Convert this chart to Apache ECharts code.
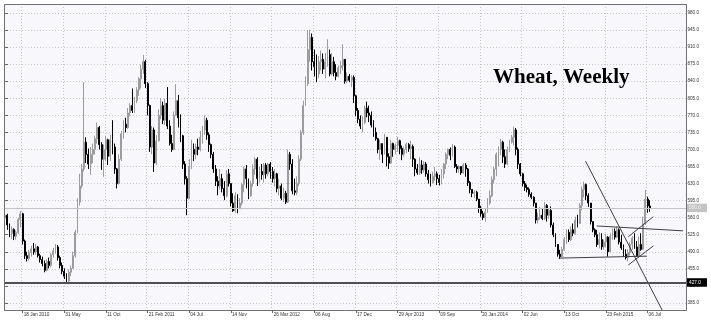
<!DOCTYPE html>
<html><head><meta charset="utf-8">
<script src="https://cdn.jsdelivr.net/npm/echarts@6/dist/echarts.min.js"></script>
<style>html,body{margin:0;padding:0;background:#fff}#c{width:711px;height:320px}</style>
</head><body><div id="c"></div>
<script>
// ---- data ----
const tickLabels = ['18 Jan 2010','31 May','11 Oct','21 Feb 2011','04 Jul','14 Nov','26 Mar 2012','06 Aug','17 Dec','29 Apr 2013','09 Sep','20 Jan 2014','02 Jun','13 Oct','23 Feb 2015','06 Jul'];
const firstLabelIndex = 8, labelStep = 19, emptySlots = 16;
const firstOpen = 560;
const closes = [
565,545,528,536,522,530,556,568,512,482,
476,488,496,490,500,482,474,466,452,470,
462,484,492,500,478,462,450,440,430,448,
456,482,530,592,625,660,715,690,670,690,
700,722,745,710,680,700,720,686,720,705,
660,630,680,732,752,745,775,790,780,800,
822,845,865,880,835,790,705,740,672,718,
770,790,760,795,748,712,700,770,800,765,
728,670,640,600,665,700,690,705,700,725,
740,760,730,710,690,660,635,625,640,620,
605,650,630,590,574,605,578,590,628,660,
640,605,630,660,680,640,655,648,668,650,
670,655,640,650,620,625,600,610,592,690,
670,615,612,630,680,735,790,835,905,930,
880,870,855,880,885,865,880,895,855,880,
858,850,868,872,885,840,850,842,848,810,
780,762,748,755,785,775,770,750,735,722,
700,712,690,725,685,672,712,700,708,718,
702,690,700,710,702,706,680,660,652,668,
658,670,650,638,632,645,650,640,632,650,
670,690,700,688,705,665,660,665,652,668,
660,632,618,610,612,598,580,568,560,572,
590,605,638,660,690,700,715,685,670,700,
715,725,740,700,670,650,630,622,618,608,
602,590,555,560,565,558,585,565,575,545,
525,505,485,480,495,515,530,515,535,528,
555,548,585,618,628,605,590,552,535,525,
505,515,500,510,520,490,522,532,520,535,
510,498,485,478,488,505,518,500,482,505,
495,548,598,584,580];
const highs = [
580,568,548,542,538,534,560,574,570,515,
490,494,502,508,506,502,486,480,472,474,
478,488,498,506,504,482,468,456,446,454,
462,490,535,600,650,670,838,725,702,705,
712,728,755,748,715,710,728,722,730,760,
712,662,690,738,760,765,785,795,825,808,
828,848,874,894,884,838,792,748,745,730,
782,805,798,804,828,760,730,778,834,812,
772,730,676,645,680,720,712,712,722,738,
748,770,765,735,712,695,668,645,660,650,
635,658,660,630,610,612,608,600,632,665,
668,640,636,670,684,684,665,670,672,672,
672,674,664,660,652,640,630,622,615,700,
695,680,640,645,688,740,800,850,945,946,
938,905,895,892,903,897,898,926,905,898,
890,875,872,882,916,885,858,855,852,852,
812,785,770,768,790,798,790,778,760,745,
724,720,712,732,725,692,720,714,712,726,
720,708,706,714,713,718,710,682,670,684,
678,676,674,658,650,654,664,655,648,660,
672,694,702,704,711,708,670,668,665,672,
672,662,635,618,616,615,598,584,574,580,
600,616,645,665,694,706,722,718,700,706,
720,730,747,744,704,672,652,635,628,622,
612,604,590,570,582,580,592,588,580,583,
550,528,505,494,500,520,536,536,542,548,
562,566,590,624,634,630,610,590,552,538,
535,530,528,515,527,522,528,538,538,542,
538,525,505,495,495,510,522,528,512,521,
528,562,617,603,596];
const lows = [
548,535,520,516,514,515,526,540,505,475,
470,472,480,484,484,478,468,460,448,450,
456,458,478,486,472,456,444,434,425,428,
440,455,478,528,585,620,655,672,660,648,
672,690,712,700,658,644,676,668,676,690,
650,620,628,676,722,735,742,768,775,775,
795,810,825,855,826,770,695,690,654,668,
716,762,752,750,742,708,695,698,770,745,
715,660,628,565,598,660,676,680,688,696,
712,730,720,695,682,652,625,606,618,612,
596,602,624,583,572,570,569,578,585,612,
620,598,603,624,648,625,632,638,632,640,
645,640,632,624,612,606,596,592,588,590,
658,608,606,606,625,676,730,790,830,880,
862,850,838,846,862,855,846,870,850,852,
850,842,848,855,862,835,836,838,828,795,
768,754,742,735,752,766,756,745,726,718,
692,678,672,690,665,660,670,685,690,695,
690,678,685,692,695,680,664,645,648,648,
650,652,644,630,624,630,636,627,626,628,
640,660,680,678,685,662,652,652,648,650,
644,625,610,602,600,594,570,562,555,552,
570,586,602,630,645,665,688,672,662,668,
695,712,708,688,660,645,624,615,612,603,
598,583,548,548,556,555,555,552,558,540,
520,500,480,475,478,492,506,510,512,522,
525,540,548,575,602,596,582,546,530,520,
500,497,494,494,500,480,490,515,515,518,
505,494,480,474,470,482,494,496,480,478,
492,494,545,570,572];
// horizontal price lines
const priceLevels = [427.0, 580.0];
// trend lines: [[startIndex, startPrice], [endIndex, endPrice]]
const trendLines = [
  [[264.7, 676], [300.8, 360]],
  [[252.4, 477], [292.6, 481]],
  [[269.8, 543], [309.1, 533]],
  [[284.2, 521], [295.6, 562]],
  [[284.2, 463], [295.6, 502]]
];
const yMin = 350, yMax = 998.5, yStep = 35;

// ---- build ----
const N = closes.length + emptySlots;
const cats = [];
for (let i = 0; i < N; i++) {
  const k = (i - firstLabelIndex) / labelStep;
  cats.push(i >= firstLabelIndex && Number.isInteger(k) && k < tickLabels.length ? tickLabels[k] : '');
}
const isLabel = (idx) => cats[idx] !== '';
const ohlc = closes.map((c, i) => {
  const o = i === 0 ? firstOpen : closes[i - 1];
  return [o, c, Math.min(lows[i], o, c), Math.max(highs[i], o, c)];
});

const chart = echarts.init(document.getElementById('c'), null, {renderer: 'canvas'});
const font = 'Liberation Sans, Arial, sans-serif';
const L = 4, R = 686, T = 4, B = 310;

chart.setOption({
  animation: false,
  backgroundColor: '#ffffff',
  title: {
    text: 'Wheat, Weekly', left: 488, top: 62,
    textStyle: {fontFamily: 'Liberation Serif, Times New Roman, serif', fontWeight: 'bold', fontSize: 21, color: '#000'}
  },
  grid: {left: L, right: 711 - R, top: T, bottom: 0},
  xAxis: [
    { type: 'category', data: cats, boundaryGap: true,
      axisLine: {show: false}, axisTick: {show: false}, axisLabel: {show: false},
      splitLine: {show: true, interval: (i) => isLabel(i), lineStyle: {color: '#c6c6cc', type: [1, 2], width: 1}} },
    { type: 'category', data: cats, boundaryGap: true, position: 'bottom', offset: -10, z: 20,
      axisLine: {show: false},
      axisTick: {show: true, alignWithLabel: true, interval: (i) => isLabel(i), length: 3, lineStyle: {color: '#666'}},
      axisLabel: {show: true, interval: (i) => isLabel(i), align: 'left', margin: 2.5, fontSize: 4.7, fontFamily: font, color: '#333', padding: [0, 0, 0, 1]},
      splitLine: {show: false} },
    { type: 'value', min: -0.5, max: N - 0.5, show: false }
  ],
  yAxis: {
    type: 'value', position: 'right', min: yMin, max: yMax, interval: yStep,
    axisLine: {show: false},
    axisTick: {show: true, length: 3, lineStyle: {color: '#666'}},
    axisLabel: {margin: 1.5, fontSize: 4.6, fontFamily: font, color: '#333',
      formatter: (v) => (Math.abs(v % yStep) < 1e-6 && v >= 385 && v <= 980) ? v.toFixed(1) : ''},
    splitLine: {show: true, lineStyle: {color: '#c6c6cc', type: [1, 2], width: 1}}
  },
  graphic: [
    {type: 'rect', z: -10, silent: true, shape: {x: L, y: T, width: R - L, height: B - T}, style: {fill: '#f8f8fc'}},
    {type: 'rect', z: 10, silent: true, shape: {x: 0, y: B + 0.5, width: 711, height: 320 - B}, style: {fill: '#ffffff'}},
    {type: 'rect', z: 11, silent: true, shape: {x: L + 0.5, y: T + 0.5, width: R - L, height: B - T}, style: {fill: null, stroke: '#707070', lineWidth: 1}}
  ],
  series: [
    { type: 'candlestick', xAxisIndex: 0, data: ohlc, barWidth: 1.4,
      itemStyle: {color: '#9c9c9c', borderColor: '#9c9c9c', color0: '#000', borderColor0: '#000', borderWidth: 1},
      markLine: {
        silent: true, symbol: 'none', animation: false,
        data: [
          {yAxis: priceLevels[0], lineStyle: {color: '#505050', width: 2, type: 'solid'},
           label: {show: true, position: 'end', distance: 0, formatter: priceLevels[0].toFixed(1), backgroundColor: '#000', color: '#fff', fontSize: 4.8, fontFamily: font, padding: [2, 6, 1.5, 3]}},
          {yAxis: priceLevels[1], lineStyle: {color: '#c4c4c4', width: 1, type: 'solid'},
           label: {show: true, position: 'end', distance: 0, formatter: priceLevels[1].toFixed(1), backgroundColor: '#c4c4c4', color: '#eeeeee', fontSize: 4.8, fontFamily: font, padding: [2, 6, 1.5, 3]}}
        ]
      }
    },
    ...trendLines.map((seg) => ({
      type: 'line', xAxisIndex: 2, data: seg, showSymbol: false, symbol: 'none', clip: true, z: 3,
      lineStyle: {color: '#404040', width: 1}
    }))
  ]
});
</script></body></html>
